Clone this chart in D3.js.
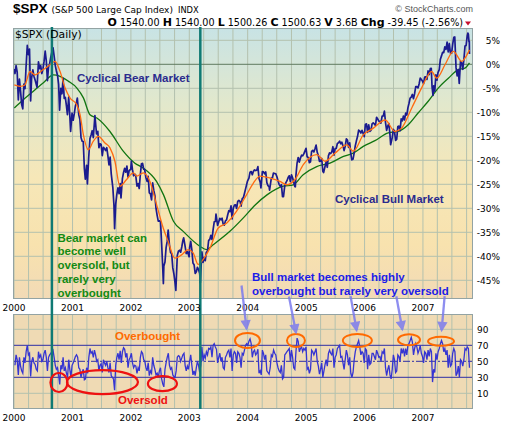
<!DOCTYPE html>
<html>
<head>
<meta charset="utf-8">
<script src="https://cdn.jsdelivr.net/npm/d3@7"></script>
<style>
  body { margin: 0; background: #fff; }
  svg { display: block; }
</style>
</head>
<body>
<svg id="chart" width="510" height="428"></svg>
<script>
// ─── DATA ─────────────────────────────────────────────────────────────────────
// S&P 500 closes (roughly weekly, plus the turning points).
// The % axis is measured against the 1999-12-31 close.
const baseClose = 1469.25;

const spxCloses = [
  ['2000-01-03',1455],['2000-01-07',1441],['2000-01-14',1465],['2000-01-21',1445],['2000-01-28',1360],
  ['2000-02-04',1424],['2000-02-11',1387],['2000-02-18',1346],['2000-02-25',1333],['2000-03-03',1409],
  ['2000-03-10',1395],['2000-03-16',1458],['2000-03-24',1527],['2000-03-31',1499],['2000-04-07',1516],
  ['2000-04-14',1357],['2000-04-20',1427],['2000-04-28',1452],['2000-05-05',1432],['2000-05-12',1421],
  ['2000-05-24',1399],['2000-06-02',1477],['2000-06-09',1456],['2000-06-16',1465],['2000-06-23',1441],
  ['2000-06-30',1455],['2000-07-07',1478],['2000-07-14',1510],['2000-07-21',1480],['2000-07-28',1419],
  ['2000-08-04',1462],['2000-08-11',1471],['2000-08-18',1491],['2000-08-25',1507],['2000-09-01',1520],
  ['2000-09-08',1494],['2000-09-15',1466],['2000-09-22',1449],['2000-09-29',1436],['2000-10-06',1408],
  ['2000-10-12',1329],['2000-10-20',1396],['2000-10-27',1379],['2000-11-03',1426],['2000-11-10',1365],
  ['2000-11-17',1368],['2000-11-24',1341],['2000-11-30',1315],['2000-12-08',1369],['2000-12-15',1312],
  ['2000-12-20',1264],['2000-12-29',1320],
  ['2001-01-05',1298],['2001-01-12',1318],['2001-01-19',1342],['2001-01-26',1354],['2001-01-31',1366],
  ['2001-02-09',1315],['2001-02-16',1301],['2001-02-23',1245],['2001-03-02',1234],['2001-03-09',1233],
  ['2001-03-16',1150],['2001-03-22',1118],['2001-03-30',1160],['2001-04-04',1103],['2001-04-12',1183],
  ['2001-04-20',1242],['2001-04-27',1253],['2001-05-04',1266],['2001-05-11',1245],['2001-05-21',1312],
  ['2001-05-31',1256],['2001-06-08',1264],['2001-06-15',1214],['2001-06-22',1226],['2001-06-29',1224],
  ['2001-07-06',1190],['2001-07-13',1215],['2001-07-20',1211],['2001-07-27',1205],['2001-08-03',1214],
  ['2001-08-10',1190],['2001-08-17',1161],['2001-08-24',1185],['2001-08-31',1134],['2001-09-10',1092],
  ['2001-09-17',1038],['2001-09-21',966],['2001-09-28',1041],['2001-10-05',1071],['2001-10-12',1091],
  ['2001-10-19',1073],['2001-10-26',1104],['2001-10-31',1060],['2001-11-09',1120],['2001-11-16',1138],
  ['2001-11-23',1151],['2001-11-30',1139],['2001-12-07',1158],['2001-12-14',1124],['2001-12-21',1144],
  ['2001-12-31',1148],
  ['2002-01-04',1173],['2002-01-11',1146],['2002-01-18',1128],['2002-01-25',1133],['2002-01-31',1130],
  ['2002-02-08',1096],['2002-02-15',1104],['2002-02-22',1089],['2002-03-01',1132],['2002-03-08',1165],
  ['2002-03-15',1166],['2002-03-22',1148],['2002-03-28',1147],['2002-04-05',1122],['2002-04-12',1111],
  ['2002-04-19',1126],['2002-04-26',1076],['2002-05-03',1073],['2002-05-10',1054],['2002-05-17',1106],
  ['2002-05-24',1083],['2002-05-31',1067],['2002-06-07',1028],['2002-06-14',1007],['2002-06-21',989],
  ['2002-06-28',990],['2002-07-05',989],['2002-07-12',921],['2002-07-19',847],['2002-07-23',798],
  ['2002-07-26',852],['2002-08-02',864],['2002-08-09',908],['2002-08-16',928],['2002-08-22',962],
  ['2002-08-30',916],['2002-09-06',893],['2002-09-13',889],['2002-09-20',846],['2002-09-27',827],
  ['2002-10-04',800],['2002-10-09',777],['2002-10-18',884],['2002-10-25',897],['2002-11-01',900],
  ['2002-11-08',894],['2002-11-15',910],['2002-11-22',930],['2002-11-27',938],['2002-12-06',912],
  ['2002-12-13',890],['2002-12-20',896],['2002-12-31',880],
  ['2003-01-03',908],['2003-01-10',927],['2003-01-17',901],['2003-01-24',861],['2003-01-31',856],
  ['2003-02-07',829],['2003-02-14',834],['2003-02-21',848],['2003-02-28',841],['2003-03-07',829],
  ['2003-03-11',800],['2003-03-14',833],['2003-03-21',895],['2003-03-28',863],['2003-04-04',878],
  ['2003-04-11',868],['2003-04-17',893],['2003-04-25',898],['2003-05-02',930],['2003-05-09',933],
  ['2003-05-16',946],['2003-05-23',933],['2003-05-30',963],['2003-06-06',987],['2003-06-13',988],
  ['2003-06-17',1011],['2003-06-27',976],['2003-07-03',985],['2003-07-11',998],['2003-07-18',993],
  ['2003-07-25',998],['2003-08-01',980],['2003-08-08',977],['2003-08-15',990],['2003-08-22',993],
  ['2003-08-29',1008],['2003-09-05',1021],['2003-09-12',1018],['2003-09-19',1036],['2003-09-26',996],
  ['2003-10-03',1029],['2003-10-10',1038],['2003-10-17',1039],['2003-10-24',1028],['2003-10-31',1050],
  ['2003-11-07',1053],['2003-11-14',1050],['2003-11-21',1035],['2003-11-28',1058],['2003-12-05',1061],
  ['2003-12-12',1074],['2003-12-19',1088],['2003-12-31',1112],
  ['2004-01-09',1121],['2004-01-16',1139],['2004-01-23',1141],['2004-01-30',1131],['2004-02-06',1142],
  ['2004-02-13',1146],['2004-02-20',1144],['2004-02-27',1145],['2004-03-05',1156],['2004-03-12',1120],
  ['2004-03-19',1109],['2004-03-24',1091],['2004-04-02',1141],['2004-04-09',1140],['2004-04-16',1134],
  ['2004-04-23',1140],['2004-04-30',1107],['2004-05-07',1098],['2004-05-14',1095],['2004-05-17',1084],
  ['2004-05-28',1121],['2004-06-04',1122],['2004-06-10',1136],['2004-06-18',1135],['2004-06-25',1134],
  ['2004-07-02',1125],['2004-07-09',1112],['2004-07-16',1101],['2004-07-23',1096],['2004-07-30',1101],
  ['2004-08-06',1064],['2004-08-12',1064],['2004-08-20',1098],['2004-08-27',1107],['2004-09-03',1113],
  ['2004-09-10',1123],['2004-09-17',1128],['2004-09-24',1110],['2004-10-01',1131],['2004-10-08',1122],
  ['2004-10-15',1108],['2004-10-22',1095],['2004-10-25',1094],['2004-10-29',1130],['2004-11-05',1167],
  ['2004-11-12',1184],['2004-11-19',1170],['2004-11-26',1182],['2004-12-03',1191],['2004-12-10',1189],
  ['2004-12-17',1195],['2004-12-31',1212],
  ['2005-01-07',1186],['2005-01-14',1184],['2005-01-21',1168],['2005-01-28',1171],['2005-02-04',1203],
  ['2005-02-11',1206],['2005-02-18',1201],['2005-02-25',1211],['2005-03-04',1222],['2005-03-11',1200],
  ['2005-03-18',1190],['2005-03-25',1172],['2005-04-01',1173],['2005-04-08',1181],['2005-04-15',1142],
  ['2005-04-20',1138],['2005-04-29',1157],['2005-05-06',1171],['2005-05-13',1154],['2005-05-20',1189],
  ['2005-05-27',1198],['2005-06-03',1196],['2005-06-10',1201],['2005-06-17',1217],['2005-06-24',1191],
  ['2005-07-01',1211],['2005-07-08',1212],['2005-07-15',1227],['2005-07-22',1229],['2005-07-29',1234],
  ['2005-08-05',1226],['2005-08-12',1231],['2005-08-19',1220],['2005-08-26',1205],['2005-09-02',1218],
  ['2005-09-09',1241],['2005-09-16',1237],['2005-09-23',1215],['2005-09-30',1229],['2005-10-07',1196],
  ['2005-10-13',1177],['2005-10-21',1179],['2005-10-28',1198],['2005-11-04',1220],['2005-11-11',1235],
  ['2005-11-18',1248],['2005-11-25',1268],['2005-12-02',1265],['2005-12-09',1259],['2005-12-16',1267],
  ['2005-12-30',1248],
  ['2006-01-06',1285],['2006-01-13',1287],['2006-01-20',1261],['2006-01-27',1284],['2006-02-03',1264],
  ['2006-02-10',1267],['2006-02-17',1287],['2006-02-24',1290],['2006-03-03',1287],['2006-03-10',1282],
  ['2006-03-17',1307],['2006-03-24',1302],['2006-03-31',1295],['2006-04-07',1295],['2006-04-13',1289],
  ['2006-04-21',1311],['2006-04-28',1311],['2006-05-05',1326],['2006-05-12',1291],['2006-05-19',1267],
  ['2006-05-26',1280],['2006-06-02',1288],['2006-06-09',1253],['2006-06-13',1223],['2006-06-23',1245],
  ['2006-06-30',1270],['2006-07-07',1265],['2006-07-14',1236],['2006-07-21',1240],['2006-07-28',1279],
  ['2006-08-04',1280],['2006-08-11',1266],['2006-08-18',1302],['2006-08-25',1296],['2006-09-01',1311],
  ['2006-09-08',1299],['2006-09-15',1320],['2006-09-22',1314],['2006-09-29',1336],['2006-10-06',1350],
  ['2006-10-13',1366],['2006-10-20',1369],['2006-10-27',1377],['2006-11-03',1364],['2006-11-10',1380],
  ['2006-11-17',1401],['2006-11-24',1401],['2006-12-01',1397],['2006-12-08',1409],['2006-12-15',1427],
  ['2006-12-29',1418],
  ['2007-01-05',1410],['2007-01-12',1430],['2007-01-19',1431],['2007-01-26',1423],['2007-02-02',1449],
  ['2007-02-09',1438],['2007-02-16',1456],['2007-02-22',1457],['2007-02-27',1400],['2007-03-05',1374],
  ['2007-03-09',1403],['2007-03-16',1387],['2007-03-23',1437],['2007-03-30',1421],['2007-04-05',1444],
  ['2007-04-13',1453],['2007-04-20',1485],['2007-04-27',1495],['2007-05-04',1506],['2007-05-11',1505],
  ['2007-05-18',1523],['2007-05-25',1515],['2007-06-01',1537],['2007-06-08',1507],['2007-06-15',1533],
  ['2007-06-22',1503],['2007-06-29',1503],['2007-07-06',1531],['2007-07-13',1552],['2007-07-19',1553],
  ['2007-07-27',1459],['2007-08-03',1434],['2007-08-10',1453],['2007-08-16',1411],['2007-08-24',1479],
  ['2007-08-31',1474],['2007-09-07',1454],['2007-09-14',1484],['2007-09-21',1525],['2007-09-28',1527],
  ['2007-10-05',1557],['2007-10-09',1565],['2007-10-12',1562],['2007-10-16',1538],['2007-10-18',1540],
  ['2007-10-19',1501]
];

// fast moving average (orange), % vs base
const maFastPct = [
  ['2000-01-03',-4.3],['2000-02-07',-4.6],['2000-03-09',-4.3],['2000-04-10',-1.5],['2000-05-11',-2.2],
  ['2000-07-02',-1.1],['2000-08-13',-0.1],['2000-09-14',0.6],['2000-10-15',-1.5],['2000-11-15',-4.9],
  ['2000-12-16',-7.0],['2001-01-27',-8.4],['2001-02-17',-10.5],['2001-03-10',-14.7],['2001-04-10',-17.8],
  ['2001-05-11',-16.0],['2001-06-11',-15.0],['2001-07-23',-16.4],['2001-08-23',-17.4],['2001-09-23',-20.2],
  ['2001-10-24',-25.4],['2001-12-05',-24.0],['2002-01-16',-22.6],['2002-02-06',-23.3],['2002-03-19',-22.6],
  ['2002-04-30',-24.4],['2002-06-11',-29.3],['2002-07-22',-34.1],['2002-08-22',-36.9],['2002-10-03',-40.4],
  ['2002-11-14',-39.7],['2002-12-25',-38.6],['2003-01-25',-39.3],['2003-02-26',-41.7],['2003-03-28',-40.7],
  ['2003-05-10',-38.3],['2003-07-01',-34.1],['2003-08-22',-33.1],['2003-10-24',-30.6],['2003-12-25',-27.2],
  ['2004-02-05',-24.8],['2004-03-18',-23.3],['2004-05-20',-23.7],['2004-07-21',-24.4],['2004-09-01',-25.1],
  ['2004-10-23',-24.0],['2004-12-14',-20.9],['2005-03-08',-18.8],['2005-04-29',-20.2],['2005-07-01',-18.5],
  ['2005-09-12',-16.8],['2005-10-23',-18.1],['2005-12-24',-14.7],['2006-02-25',-13.3],['2006-05-10',-11.6],
  ['2006-07-10',-14.0],['2006-08-21',-13.3],['2006-10-23',-9.1],['2006-12-24',-4.9],['2007-02-24',-1.5],
  ['2007-03-28',-2.9],['2007-05-19',-0.1],['2007-07-10',2.7],['2007-09-01',0.6],['2007-09-21',1.3],
  ['2007-10-19',3.0]
];

// slow moving average (green), % vs base
const maSlowPct = [
  ['2000-01-03',-9.1],['2000-02-28',-7.4],['2000-05-01',-5.6],['2000-07-01',-3.9],['2000-09-03',-2.2],
  ['2000-10-15',-2.5],['2000-12-05',-3.5],['2001-01-27',-4.9],['2001-03-10',-7.0],['2001-04-20',-10.5],
  ['2001-06-02',-11.2],['2001-08-23',-14.0],['2001-11-14',-18.1],['2002-01-26',-20.6],['2002-03-18',-21.6],
  ['2002-06-10',-24.4],['2002-07-24',-27.2],['2002-09-24',-32.7],['2002-11-24',-34.8],['2003-03-08',-37.9],
  ['2003-04-19',-38.6],['2003-05-30',-37.6],['2003-09-12',-34.8],['2003-12-05',-32.0],['2004-02-17',-29.3],
  ['2004-05-01',-27.2],['2004-08-11',-25.4],['2004-10-12',-25.1],['2004-12-13',-23.0],['2005-03-08',-21.3],
  ['2005-05-30',-20.6],['2005-08-22',-19.2],['2005-10-22',-18.5],['2005-12-24',-17.1],['2006-03-07',-15.9],
  ['2006-05-29',-14.3],['2006-07-30',-14.0],['2006-10-01',-12.6],['2006-12-03',-10.1],['2007-02-03',-7.7],
  ['2007-04-08',-4.9],['2007-06-09',-2.9],['2007-08-10',-1.1],['2007-09-20',-0.8],['2007-10-19',0.3]
];

// RSI, one reading per week from 2000-01-07 to 2007-10-19
const rsiStart = '2000-01-07', rsiEnd = '2007-10-19';
const rsiWeekly = [
  // 2000
  45,58,52,33,55,44,38,35,55,48,62,70,58,60,31,50,55,48,46,40,38,62,55,58,50,52,
  60,64,55,38,55,58,60,62,64,55,45,40,42,33,21,45,40,55,38,42,35,30,52,40,30,45,
  // 2001
  48,52,56,58,55,42,40,30,36,40,27,28,42,35,55,66,60,62,55,64,58,50,52,38,45,47,
  36,52,48,45,50,42,36,48,32,30,28,14,45,55,60,52,63,48,62,67,65,55,60,42,52,55,
  // 2002
  60,48,42,45,44,35,42,38,55,62,60,52,50,42,38,48,32,38,35,55,45,40,33,35,30,38,
  42,28,22,18,40,48,55,60,45,40,42,33,31,30,38,55,57,56,50,54,58,60,45,38,44,40,
  // 2003
  50,58,45,33,38,32,42,50,45,36,45,68,50,58,54,62,58,66,65,68,55,70,72,68,65,48,
  55,60,50,55,42,40,55,58,62,64,55,66,38,58,62,60,48,62,60,55,42,60,58,64,70,72,
  // 2004
  70,75,78,72,55,62,64,58,60,65,35,38,33,64,60,52,58,38,36,34,42,58,56,64,60,58,
  48,42,38,36,45,28,30,58,60,62,64,66,50,64,55,42,40,62,79,75,62,66,68,62,66,64,68,
  // 2005
  40,42,35,40,64,62,58,62,66,50,44,34,40,48,30,38,46,52,44,60,64,60,58,66,42,55,
  58,66,68,70,55,56,48,40,52,64,58,45,55,35,30,36,52,62,68,72,76,68,58,62,60,48,
  // 2006
  66,64,40,58,46,48,60,60,56,52,64,60,55,56,50,62,60,66,42,32,40,45,33,28,40,58,
  52,36,38,58,56,50,66,60,66,56,66,58,70,72,76,80,74,58,66,72,68,60,64,70,60,56,
  // 2007
  48,62,60,52,64,56,66,62,24,40,36,60,52,62,66,72,76,72,62,66,58,64,42,58,44,46,
  60,66,62,32,35,44,30,52,50,44,52,66,64,68,66,42
];

const pctTicks = [5, 0, -5, -10, -15, -20, -25, -30, -35, -40, -45];
const rsiTicks = [90, 70, 50, 30, 10];
const years = [2000, 2001, 2002, 2003, 2004, 2005, 2006, 2007];

// market top / bottom markers
const cycleMarks = ['2000-08-25', '2003-03-11'];

// overbought / oversold circles in the RSI pane
const obCircles = [
  { date: '2003-12-31', rsi: 76, rx: 12.5, ry: 7.5 },
  { date: '2004-10-29', rsi: 76, rx: 9, ry: 6.5 },
  { date: '2005-11-17', rsi: 76, rx: 14.5, ry: 6.5 },
  { date: '2006-10-06', rsi: 77, rx: 11, ry: 5.5 },
  { date: '2007-04-24', rsi: 75, rx: 13, ry: 4.5 }
];
const osCircles = [
  { date: '2000-10-08', rsi: 23.5, rx: 8.5, ry: 9.5 },
  { date: '2001-07-07', rsi: 24, rx: 35.5, ry: 12 },
  { date: '2002-07-17', rsi: 22, rx: 14.5, ry: 7.5 }
];
// arrows from the bull-market note down to the circles: tip + tail offset
const obArrows = [
  { date: '2003-12-25', rsi: 91, dx: -5, dy: -43 },
  { date: '2004-10-29', rsi: 86, dx: -7, dy: -36 },
  { date: '2005-11-12', rsi: 89, dx: -6, dy: -34 },
  { date: '2006-08-25', rsi: 90, dx: -6, dy: -33 },
  { date: '2007-04-28', rsi: 89, dx: 3, dy: -34 }
];

// ─── CHART SETUP ──────────────────────────────────────────────────────────────
const parse = d3.timeParse('%Y-%m-%d');
const toPct = (c) => (c / baseClose - 1) * 100;

const plotL = 13, plotR = 473;
const priceTop = 28, priceBot = 299;
const rsiTop = 314, rsiBot = 409;

const svg = d3.select('#chart');

const x = d3.scaleTime()
  .domain([new Date(2000, 0, 1), new Date(2007, 10, 10)])
  .range([14, 473]);
const y = d3.scaleLinear().domain([-45, 5]).range([280.3, 40.3]);
const yr = d3.scaleLinear().domain([10, 90]).range([393.3, 329.3]);

const defs = svg.append('defs');
const grad = defs.append('linearGradient')
  .attr('id', 'bg').attr('x1', 0).attr('y1', 0).attr('x2', 0).attr('y2', 1);
[['0', '#c8e3e5'], ['0.28', '#e2e8cc'], ['0.55', '#f6e7b8'], ['0.8', '#f8e2ae'], ['1', '#f2dab6']]
  .forEach(([o, c]) => grad.append('stop').attr('offset', o).attr('stop-color', c));

defs.append('clipPath').attr('id', 'clipP').append('rect')
  .attr('x', plotL).attr('y', priceTop).attr('width', plotR - plotL).attr('height', priceBot - priceTop);
defs.append('clipPath').attr('id', 'clipR').append('rect')
  .attr('x', plotL).attr('y', rsiTop).attr('width', plotR - plotL).attr('height', rsiBot - rsiTop);

defs.append('marker')
  .attr('id', 'arrow').attr('viewBox', '0 0 10 10')
  .attr('refX', 8).attr('refY', 5)
  .attr('markerWidth', 5).attr('markerHeight', 4.5)
  .attr('orient', 'auto')
  .append('path').attr('d', 'M0,0L10,5L0,10z').attr('fill', '#7b7bee');

// panel backgrounds
svg.append('rect').attr('x', plotL).attr('y', priceTop)
  .attr('width', plotR - plotL).attr('height', priceBot - priceTop).attr('fill', 'url(#bg)');
svg.append('rect').attr('x', plotL).attr('y', rsiTop)
  .attr('width', plotR - plotL).attr('height', rsiBot - rsiTop).attr('fill', '#efdab4');

// grid
const quarters = d3.timeMonth.every(3).range(new Date(2000, 0, 1), new Date(2007, 10, 10));
const gridCol = '#b3c1ae';
[[priceTop, priceBot], [rsiTop, rsiBot]].forEach(([t, b]) => {
  svg.append('g').selectAll('line').data(quarters).join('line')
    .attr('x1', (d) => x(d)).attr('x2', (d) => x(d))
    .attr('y1', t).attr('y2', b)
    .attr('stroke', gridCol).attr('stroke-width', 1);
});
svg.append('g').selectAll('line').data(pctTicks).join('line')
  .attr('x1', plotL).attr('x2', plotR)
  .attr('y1', (d) => y(d)).attr('y2', (d) => y(d))
  .attr('stroke', (d) => (d === 0 ? '#5f7b60' : gridCol)).attr('stroke-width', 1);
svg.append('g').selectAll('line').data([90, 10]).join('line')
  .attr('x1', plotL).attr('x2', plotR)
  .attr('y1', (d) => yr(d)).attr('y2', (d) => yr(d))
  .attr('stroke', gridCol);

// RSI reference lines
svg.append('g').selectAll('line').data([70, 30]).join('line')
  .attr('x1', plotL).attr('x2', plotR)
  .attr('y1', (d) => yr(d)).attr('y2', (d) => yr(d))
  .attr('stroke', '#2d2da6').attr('stroke-width', 1);
svg.append('line')
  .attr('x1', plotL).attr('x2', plotR).attr('y1', yr(50)).attr('y2', yr(50))
  .attr('stroke', '#2d2da6').attr('stroke-dasharray', '7,2,2,2');

// ─── SERIES ───────────────────────────────────────────────────────────────────
const pricePts = spxCloses.map(([d, c]) => ({ date: parse(d), v: toPct(c) }));
const fastPts = maFastPct.map(([d, v]) => ({ date: parse(d), v }));
const slowPts = maSlowPct.map(([d, v]) => ({ date: parse(d), v }));

const rsiT0 = parse(rsiStart).getTime(), rsiT1 = parse(rsiEnd).getTime();
const rsiPts = rsiWeekly.map((v, i) => ({
  date: new Date(rsiT0 + (rsiT1 - rsiT0) * i / (rsiWeekly.length - 1)), v
}));

const lineP = d3.line().x((d) => x(d.date)).y((d) => y(d.v));
const lineMA = d3.line().x((d) => x(d.date)).y((d) => y(d.v)).curve(d3.curveMonotoneX);
const lineR = d3.line().x((d) => x(d.date)).y((d) => yr(d.v));

const gP = svg.append('g').attr('clip-path', 'url(#clipP)');
gP.append('path').datum(slowPts).attr('d', lineMA)
  .attr('fill', 'none').attr('stroke', '#117511').attr('stroke-width', 1.3);
gP.append('path').datum(pricePts).attr('d', lineP)
  .attr('fill', 'none').attr('stroke', '#1b1b8f').attr('stroke-width', 1.7)
  .attr('stroke-linejoin', 'round');
gP.append('path').datum(fastPts).attr('d', lineMA)
  .attr('fill', 'none').attr('stroke', '#ff6a10').attr('stroke-width', 1.3);

svg.append('g').attr('clip-path', 'url(#clipR)')
  .append('path').datum(rsiPts).attr('d', lineR)
  .attr('fill', 'none').attr('stroke', '#3535d2').attr('stroke-width', 1.3);

// panel borders
[[priceTop, priceBot], [rsiTop, rsiBot]].forEach(([t, b]) => {
  svg.append('rect').attr('x', plotL + 0.5).attr('y', t + 0.5)
    .attr('width', plotR - plotL - 1).attr('height', b - t - 1)
    .attr('fill', 'none').attr('stroke', '#93a3a3');
});

// cycle top / bottom markers
svg.append('g').selectAll('line').data(cycleMarks).join('line')
  .attr('x1', (d) => x(parse(d))).attr('x2', (d) => x(parse(d)))
  .attr('y1', 27).attr('y2', rsiBot)
  .attr('stroke', '#0f7a74').attr('stroke-width', 2.5);

// ─── AXES ─────────────────────────────────────────────────────────────────────
const axisFont = 'DejaVu Sans, Verdana, sans-serif';

const yAxis = svg.append('g').attr('transform', `translate(${plotR},0)`)
  .call(d3.axisRight(y).tickValues(pctTicks).tickSize(0).tickFormat((d) => d + '%'));
yAxis.select('.domain').remove();
yAxis.selectAll('text').attr('x', 27).attr('text-anchor', 'end')
  .attr('font-family', axisFont).attr('font-size', 9).attr('fill', '#000');

const rAxis = svg.append('g').attr('transform', `translate(${plotR},0)`)
  .call(d3.axisRight(yr).tickValues(rsiTicks).tickSize(0));
rAxis.select('.domain').remove();
rAxis.selectAll('text').attr('x', 15.5).attr('text-anchor', 'end')
  .attr('font-family', axisFont).attr('font-size', 9).attr('fill', '#000');

[310.7, 420.7].forEach((yy) => {
  svg.append('g').selectAll('text').data(years).join('text')
    .attr('x', (d) => x(new Date(d, 0, 1)))
    .attr('y', yy)
    .attr('text-anchor', 'middle')
    .attr('font-family', axisFont).attr('font-size', 9)
    .text((d) => d);
});

// ─── HEADER ───────────────────────────────────────────────────────────────────
const head = svg.append('text').attr('x', 13).attr('y', 13).attr('font-family', axisFont);
head.append('tspan').attr('font-family', 'Liberation Sans, Arial, sans-serif')
  .attr('font-weight', 'bold').attr('font-size', 13.5).text('$SPX');
head.append('tspan').attr('dx', 4).attr('font-size', 9).text('(S&P 500 Large Cap Index)');
head.append('tspan').attr('dx', 5).attr('font-size', 8.3).text('INDX');

svg.append('text').attr('x', 473).attr('y', 12).attr('text-anchor', 'end')
  .attr('font-family', 'Liberation Sans, Arial, sans-serif').attr('font-size', 9)
  .attr('fill', '#555').text('© StockCharts.com');

const quote = [['O', ' 1540.00 '], ['H', ' 1540.00 '], ['L', ' 1500.26 '], ['C', ' 1500.63 '],
  ['V', ' 3.6B '], ['Chg', ' -39.45 (-2.56%)']];
const q = svg.append('text').attr('x', 463).attr('y', 26).attr('text-anchor', 'end')
  .attr('font-family', axisFont).attr('font-size', 9.6).attr('xml:space', 'preserve');
quote.forEach(([k, v]) => {
  q.append('tspan').attr('font-weight', 'bold').attr('font-size', 11).text(k);
  q.append('tspan').text(v);
});
svg.append('path').attr('d', 'M465,21.5L471,21.5L468,25.5Z').attr('fill', '#c8102e');

svg.append('text').attr('x', 15).attr('y', 37.5)
  .attr('font-family', axisFont).attr('font-size', 10.8).text('$SPX (Daily)');

// ─── ANNOTATIONS ──────────────────────────────────────────────────────────────
const noteFont = 'Liberation Sans, Arial, sans-serif';
function note(txt, xx, yy, col) {
  svg.append('text').attr('x', xx).attr('y', yy)
    .attr('font-family', noteFont).attr('font-weight', 'bold').attr('font-size', 11.5)
    .attr('fill', col).text(txt);
}
note('Cyclical Bear Market', 77, 81.5, '#2b2b8e');
note('Cyclical Bull Market', 335, 203, '#2b2b8e');
note('Bull market becomes highly', 252, 281, '#1c1ce8');
note('overbought but rarely very oversold', 252, 294.5, '#1c1ce8');
['Bear market can', 'become well', 'oversold, but', 'rarely very', 'overbought']
  .forEach((t, i) => note(t, 57.5, 241.5 + i * 13.9, '#138a13'));
note('Overbought', 115, 339.5, '#ff6a00');
note('Oversold', 118, 404, '#ee1111');

svg.append('g').selectAll('ellipse').data(obCircles).join('ellipse')
  .attr('cx', (d) => x(parse(d.date))).attr('cy', (d) => yr(d.rsi))
  .attr('rx', (d) => d.rx).attr('ry', (d) => d.ry)
  .attr('fill', 'none').attr('stroke', '#ff6a00').attr('stroke-width', 2);
svg.append('g').selectAll('ellipse').data(osCircles).join('ellipse')
  .attr('cx', (d) => x(parse(d.date))).attr('cy', (d) => yr(d.rsi))
  .attr('rx', (d) => d.rx).attr('ry', (d) => d.ry)
  .attr('fill', 'none').attr('stroke', '#ee1111').attr('stroke-width', 2.2);

svg.append('g').attr('opacity', 0.85).selectAll('line').data(obArrows).join('line')
  .attr('x1', (d) => x(parse(d.date)) + d.dx).attr('y1', (d) => yr(d.rsi) + d.dy)
  .attr('x2', (d) => x(parse(d.date))).attr('y2', (d) => yr(d.rsi))
  .attr('stroke', '#7b7bee').attr('stroke-width', 2.3)
  .attr('marker-end', 'url(#arrow)');
</script>
</body>
</html>
